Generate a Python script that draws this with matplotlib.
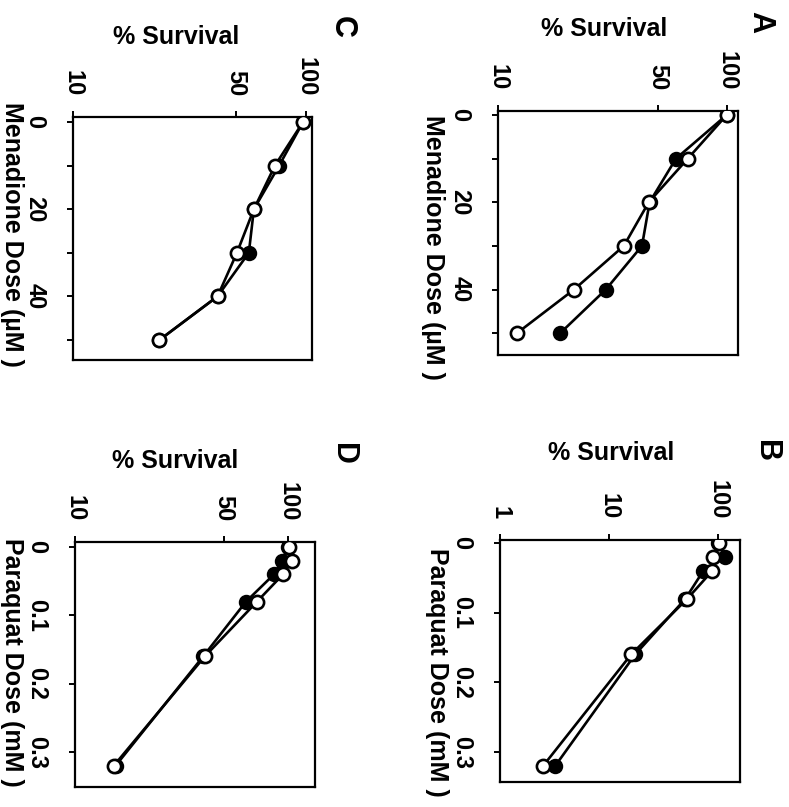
import numpy as np
import matplotlib
matplotlib.use("Agg")
import matplotlib.pyplot as plt

plt.rcParams["font.family"] = ["Liberation Sans", "DejaVu Sans"]
plt.rcParams["font.weight"] = "bold"

# doses
menadione_dose = [0, 10, 20, 30, 40, 50]
paraquat_dose = [0, 0.02, 0.04, 0.08, 0.16, 0.32]

# % survival
a_filled = [100, 60, 46, 42.6, 29.6, 18.7]
a_open = [100, 67.6, 45.6, 35.5, 21.5, 12.1]
b_filled = [100, 116, 72.8, 50, 17.3, 3.2]
b_open = [102, 90, 88, 52, 15.9, 2.48]
c_filled = [97, 76.6, 59.7, 56.8, 41.7, 23.5]
c_open = [97, 73.5, 59.7, 50.5, 41.7, 23.5]
d_filled = [100, 93.7, 86, 63.5, 40, 15.5]
d_open = [101, 105, 94.8, 71.5, 40.7, 15.2]

menadione_ticks = [0, 10, 20, 30, 40, 50]
menadione_labels = ["0", "", "20", "", "40", ""]
paraquat_ticks = [0, 0.1, 0.2, 0.3]
paraquat_labels = ["0", "0.1", "0.2", "0.3"]

W, H = 789, 807
fig = plt.figure(figsize=(W / 100, H / 100), dpi=100)


def px_axes(x0, y0, x1, y1):
    return fig.add_axes([x0 / W, 1 - y1 / H, (x1 - x0) / W, (y1 - y0) / H])


def px_text(x, y, s, size=18, rotation=0):
    fig.text(x / W, 1 - y / H, s, ha="center", va="center", rotation=rotation,
             fontsize=size, fontweight="bold")


def panel(box, dose, filled, opened, xlim, xticks, ylim, yticks, ylabels):
    ax = px_axes(*box)
    ax.plot(filled, dose, "-o", color="black", lw=1.9, ms=9.5,
            mfc="black", mec="black", mew=1.6, zorder=2)
    ax.plot(opened, dose, "-o", color="black", lw=1.9, ms=9.5,
            mfc="white", mec="black", mew=1.9, zorder=3)
    ax.set_xscale("log")
    ax.set_xlim(*xlim)
    ax.set_ylim(*ylim)
    ax.xaxis.tick_top()
    ax.set_xticks(xticks)
    ax.set_xticklabels([str(t) for t in xticks])
    ax.xaxis.set_minor_locator(matplotlib.ticker.NullLocator())
    ax.set_yticks(yticks)
    ax.set_yticklabels(ylabels)
    ax.tick_params(axis="x", direction="out", length=4, width=1.4, pad=11,
                   labelsize=17, labelrotation=-90)
    ax.tick_params(axis="y", direction="out", length=4, width=1.4, pad=15,
                   labelsize=17, labelrotation=-90)
    for lab in ax.get_yticklabels():
        lab.set_va("center")
    for s in ax.spines.values():
        s.set_linewidth(1.6)
    return ax


# A
panel((498, 111, 738, 355), menadione_dose, a_filled, a_open,
      (10, 112), [10, 50, 100], (55.0, -0.9), menadione_ticks, menadione_labels)
# B
panel((500, 540, 740, 782), paraquat_dose, b_filled, b_open,
      (1, 158), [1, 10, 100], (0.343, -0.0043), paraquat_ticks, paraquat_labels)
# C
panel((73, 117, 312, 360), menadione_dose, c_filled, c_open,
      (10, 106), [10, 50, 100], (54.6, -1.15), menadione_ticks, menadione_labels)
# D
panel((75, 542, 315, 787), paraquat_dose, d_filled, d_open,
      (10, 134), [10, 50, 100], (0.351, -0.0073), paraquat_ticks, paraquat_labels)

px_text(604, 29, "% Survival")
px_text(611, 453, "% Survival")
px_text(176, 37, "% Survival")
px_text(175, 461, "% Survival")

px_text(433, 247, "Menadione Dose (\u00b5M )", rotation=-90)
px_text(12, 234, "Menadione Dose (\u00b5M )", rotation=-90)
px_text(437, 672, "Paraquat Dose (mM )", rotation=-90)
px_text(12, 662, "Paraquat Dose (mM )", rotation=-90)

px_text(760, 22, "A", size=22, rotation=-90)
px_text(766, 451, "B", size=22, rotation=-90)
px_text(342, 27, "C", size=22, rotation=-90)
px_text(343, 454, "D", size=22, rotation=-90)

fig.savefig("out.png", dpi=100)
